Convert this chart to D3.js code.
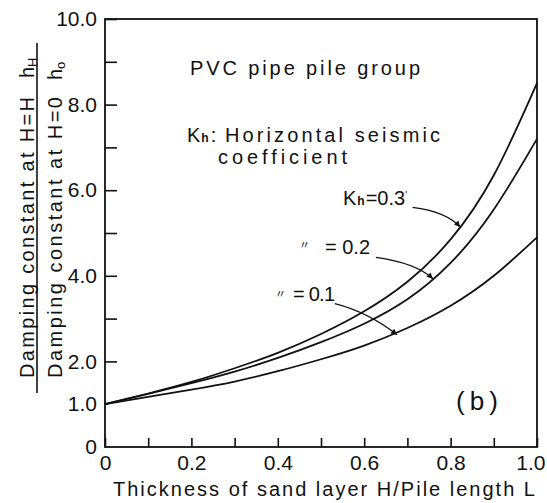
<!DOCTYPE html>
<html><head><meta charset="utf-8">
<script src="https://cdn.jsdelivr.net/npm/d3@7"></script>
<style>
body{margin:0;background:#fff;}
text{font-family:"Liberation Sans",Arial,sans-serif;fill:#111;}
</style></head>
<body>
<svg id="chart" width="547" height="503"></svg>
<script>
// ---- data ----
const xValues = [0, 0.1, 0.2, 0.3, 0.4, 0.5, 0.6, 0.7, 0.8, 0.9, 1.0];
const kh03 = [1.0, 1.25, 1.52, 1.84, 2.20, 2.64, 3.17, 3.86, 4.85, 6.35, 8.5];
const kh02 = [1.0, 1.24, 1.49, 1.76, 2.08, 2.45, 2.88, 3.45, 4.30, 5.55, 7.2];
const kh01 = [1.0, 1.17, 1.34, 1.53, 1.77, 2.05, 2.37, 2.78, 3.30, 4.00, 4.9];
const seriesNames = ["Kh=0.3", "Kh=0.2", "Kh=0.1"];
const xTicks = [0, 0.1, 0.2, 0.3, 0.4, 0.5, 0.6, 0.7, 0.8, 0.9, 1.0];
const xTickLabels = ["0", "", "0.2", "", "0.4", "", "0.6", "", "0.8", "", "1.0"];
const yTicks = [0, 1, 2, 3, 4, 5, 6, 7, 8, 9, 10];
const yTickLabels = ["0", "1.0", "2.0", "", "4.0", "", "6.0", "", "8.0", "", "10.0"];
// annotation leaders: [startX, startV, ctrlX, ctrlV, tipX, tipV] in data units
const leader03 = [0.712, 5.60, 0.79, 5.50, 0.822, 5.14];
const leader02 = [0.627, 4.43, 0.72, 4.30, 0.759, 3.93];
const leader01 = [0.532, 3.35, 0.61, 3.15, 0.676, 2.62];

const svg = d3.select("#chart");
const x = d3.scaleLinear().domain([0, 1]).range([105, 537]);
const y = d3.scaleLinear().domain([0, 10]).range([447, 19]);

// frame
svg.append("rect").attr("x", x(0)).attr("y", y(10))
  .attr("width", x(1) - x(0)).attr("height", y(0) - y(10))
  .attr("fill", "none").attr("stroke", "#111").attr("stroke-width", 1.8);

// x axis
const xAxis = d3.axisBottom(x).tickValues(xTicks)
  .tickSizeInner(-9).tickSizeOuter(0).tickPadding(8)
  .tickFormat((d, i) => xTickLabels[i]);
const gx = svg.append("g").attr("transform", `translate(0,${y(0)})`).call(xAxis);
gx.select(".domain").remove();
gx.selectAll("line").attr("stroke", "#111").attr("stroke-width", 1.6);
gx.selectAll("text").attr("font-size", 21).attr("font-family", "Liberation Sans, Arial, sans-serif").attr("fill", "#111");
gx.selectAll(".tick").filter(d => d === 1).select("text").attr("text-anchor", "end").attr("dx", 8);

// y axis
const yAxis = d3.axisLeft(y).tickValues(yTicks)
  .tickSizeInner(-12).tickSizeOuter(0).tickPadding(8)
  .tickFormat((d, i) => yTickLabels[i]);
const gy = svg.append("g").attr("transform", `translate(${x(0)},0)`).call(yAxis);
gy.select(".domain").remove();
gy.selectAll("line").attr("stroke", "#111").attr("stroke-width", 1.6);
gy.selectAll(".tick").filter(d => d === 0 || d === 1).select("line").remove();
gy.selectAll("text").attr("font-size", 21).attr("font-family", "Liberation Sans, Arial, sans-serif").attr("fill", "#111");

// curves
const line = d3.line().x((d, i) => x(xValues[i])).y(d => y(d)).curve(d3.curveNatural);
[kh03, kh02, kh01].forEach((s, k) => {
  svg.append("path").datum(s).attr("d", line)
    .attr("fill", "none").attr("stroke", "#111").attr("stroke-width", 1.8)
    .attr("class", "series").attr("data-name", seriesNames[k]);
});

// arrow marker
svg.append("defs").append("marker").attr("id", "arr")
  .attr("viewBox", "0 0 10 10").attr("refX", 10).attr("refY", 5)
  .attr("markerWidth", 8).attr("markerHeight", 6).attr("orient", "auto")
  .attr("markerUnits", "userSpaceOnUse")
  .append("path").attr("d", "M0,0 L10,5 L0,10 Z").attr("fill", "#111");

[leader03, leader02, leader01].forEach(l => {
  const p = d3.path();
  p.moveTo(x(l[0]), y(l[1]));
  p.quadraticCurveTo(x(l[2]), y(l[3]), x(l[4]), y(l[5]));
  svg.append("path").attr("d", p.toString()).attr("fill", "none")
    .attr("stroke", "#111").attr("stroke-width", 1.3).attr("marker-end", "url(#arr)");
});

// annotation texts
svg.append("text").attr("x", 190).attr("y", 75).attr("font-size", 20)
  .attr("textLength", 230).attr("lengthAdjust", "spacing").text("PVC pipe pile group");

const kt = svg.append("text").attr("x", 187).attr("y", 142).attr("font-size", 20);
kt.append("tspan").text("K");
kt.append("tspan").attr("font-size", 12).attr("font-weight", "bold").attr("dx", 1).text("h");
kt.append("tspan").attr("dx", 2).text(":");
svg.append("text").attr("x", 225).attr("y", 142).attr("font-size", 20)
  .attr("textLength", 215).attr("lengthAdjust", "spacing").text("Horizontal seismic");
svg.append("text").attr("x", 218).attr("y", 164).attr("font-size", 20)
  .attr("textLength", 129).attr("lengthAdjust", "spacing").text("coefficient");

const k3 = svg.append("text").attr("x", 343).attr("y", 205).attr("font-size", 20);
k3.append("tspan").text("K");
k3.append("tspan").attr("font-size", 12).attr("font-weight", "bold").attr("dx", 1).text("h");
k3.append("tspan").attr("dx", 1).text("=0.3");
k3.append("tspan").attr("font-size", 10).attr("dy", -6).text("'");

svg.append("text").attr("x", 299).attr("y", 249).attr("font-size", 11)
  .style("font-family", "'Noto Sans CJK JP', sans-serif").style("fill", "#111").text("〃");
svg.append("text").attr("x", 325).attr("y", 254).attr("font-size", 20)
  .attr("textLength", 45).attr("lengthAdjust", "spacing").text("= 0.2");
svg.append("text").attr("x", 275).attr("y", 298).attr("font-size", 11)
  .style("font-family", "'Noto Sans CJK JP', sans-serif").style("fill", "#111").text("〃");
svg.append("text").attr("x", 293).attr("y", 301).attr("font-size", 20)
  .attr("textLength", 42).attr("lengthAdjust", "spacing").text("= 0.1");

svg.append("text").attr("x", 456).attr("y", 410).attr("font-size", 26)
  .attr("textLength", 42).attr("lengthAdjust", "spacing").text("(b)");

// x axis title
svg.append("text").attr("x", 113).attr("y", 496).attr("font-size", 20)
  .attr("textLength", 422).attr("lengthAdjust", "spacing")
  .text("Thickness of sand layer H/Pile length L");

// y axis title (fraction)
const yl1 = svg.append("g").attr("transform", "translate(34,378) rotate(-90)");
yl1.append("text").attr("x", 0).attr("y", 0).attr("font-size", 20)
  .attr("textLength", 281).attr("lengthAdjust", "spacing").text("Damping constant at H=H");
const h1 = yl1.append("text").attr("x", 300).attr("y", 0).attr("font-size", 20);
h1.append("tspan").text("h");
h1.append("tspan").attr("font-size", 13).attr("dy", 3).text("H");

const yl2 = svg.append("g").attr("transform", "translate(62,378) rotate(-90)");
yl2.append("text").attr("x", 0).attr("y", 0).attr("font-size", 20)
  .attr("textLength", 281).attr("lengthAdjust", "spacing").text("Damping constant at H=0");
const h2 = yl2.append("text").attr("x", 298).attr("y", 0).attr("font-size", 20);
h2.append("tspan").text("h");
h2.append("tspan").attr("font-size", 13).attr("dy", 3).text("o");

svg.append("line").attr("x1", 37).attr("x2", 37).attr("y1", 43).attr("y2", 393)
  .attr("stroke", "#111").attr("stroke-width", 1.6);
</script>
</body></html>
